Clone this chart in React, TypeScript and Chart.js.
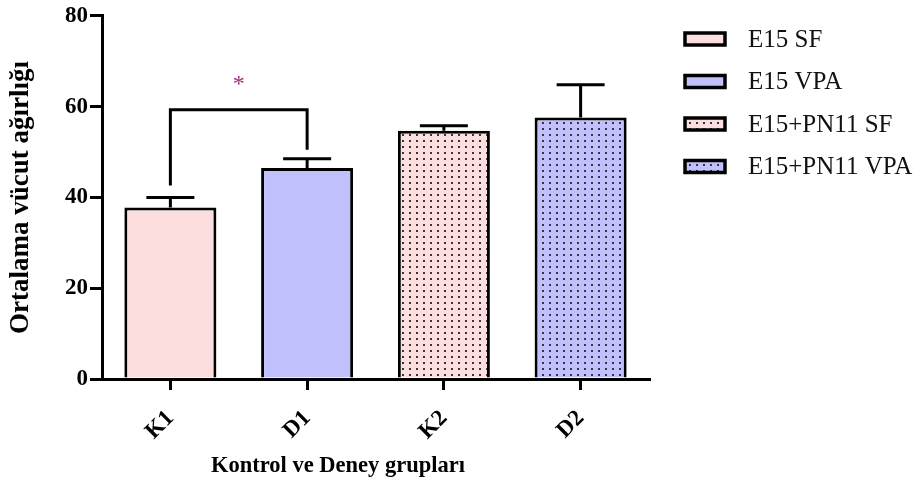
import React, { useEffect, useRef } from "react";
import { Chart, registerables } from "chart.js";

Chart.register(...registerables);

const categories = ["K1", "D1", "K2", "D2"];
const seriesNames = ["E15 SF", "E15 VPA", "E15+PN11 SF", "E15+PN11 VPA"];
const means = [37.8, 46.5, 54.7, 57.6];
const errors = [2.2, 2.0, 1.1, 7.2];
const yTicks = [0, 20, 40, 60, 80];
const fillColors = ["#FCDEDE", "#C0C0FC", "#FCDEDE", "#C0C0FC"];
const dotted = [false, false, true, true];
// significance bracket between K1 and D1
const sigFrom = 0;
const sigTo = 1;
const sigBarValue = 59.3;
const sigLeftEnd = 42.6;
const sigRightEnd = 50.5;
const sigLabel = "*";
const sigLabelValue = 65.5;

const yTitle = "Ortalama vücut ağırlığı";
const xTitle = "Kontrol ve Deney grupları";

const SERIF = "'Liberation Serif', 'Times New Roman', serif";

function makeFill(color: string, dots: boolean): string | CanvasPattern {
  if (!dots) return color;
  const c = document.createElement("canvas");
  c.width = 7;
  c.height = 6;
  const g = c.getContext("2d")!;
  g.fillStyle = color;
  g.fillRect(0, 0, 7, 6);
  g.fillStyle = "#3a3440";
  g.fillRect(3, 2, 2, 2);
  return g.createPattern(c, "repeat") as CanvasPattern;
}

export default function App() {
  const ref = useRef<HTMLCanvasElement | null>(null);

  useEffect(() => {
    if (!ref.current) return;
    const fills = fillColors.map((c, i) => makeFill(c, dotted[i]));

    const extras = {
      id: "extras",
      afterDatasetsDraw(chart: any) {
        const ctx = chart.ctx;
        const x = chart.scales.x;
        const y = chart.scales.y;
        ctx.save();
        ctx.strokeStyle = "#000";
        ctx.lineWidth = 3;
        ctx.lineCap = "butt";
        // error bars (upward only)
        means.forEach((m, i) => {
          const cx = x.getPixelForValue(i);
          const y0 = y.getPixelForValue(m);
          const y1 = y.getPixelForValue(m + errors[i]);
          ctx.beginPath();
          ctx.moveTo(cx, y0);
          ctx.lineTo(cx, y1);
          ctx.moveTo(cx - 24, y1);
          ctx.lineTo(cx + 24, y1);
          ctx.stroke();
        });
        // significance bracket
        const lx = x.getPixelForValue(sigFrom);
        const rx = x.getPixelForValue(sigTo);
        const by = y.getPixelForValue(sigBarValue);
        ctx.beginPath();
        ctx.moveTo(lx, y.getPixelForValue(sigLeftEnd));
        ctx.lineTo(lx, by);
        ctx.lineTo(rx, by);
        ctx.lineTo(rx, y.getPixelForValue(sigRightEnd));
        ctx.stroke();
        ctx.fillStyle = "#9C2F7A";
        ctx.font = `24px ${SERIF}`;
        ctx.textAlign = "center";
        ctx.textBaseline = "middle";
        ctx.fillText(sigLabel, (lx + rx) / 2, y.getPixelForValue(sigLabelValue) + 3);

        // x axis title
        ctx.fillStyle = "#000";
        ctx.font = `bold 22.5px ${SERIF}`;
        ctx.textAlign = "center";
        ctx.textBaseline = "middle";
        ctx.fillText(xTitle, chart.chartArea.left + 236, 466);

        // legend
        const lx0 = chart.chartArea.right + 36;
        seriesNames.forEach((name, i) => {
          const cy = 39 + i * 42.5;
          ctx.fillStyle = fills[i];
          ctx.fillRect(lx0, cy - 6, 40, 12);
          ctx.lineWidth = 3.5;
          ctx.strokeStyle = "#000";
          ctx.strokeRect(lx0, cy - 6, 40, 12);
          ctx.fillStyle = "#111";
          ctx.font = `25px ${SERIF}`;
          ctx.textAlign = "left";
          ctx.textBaseline = "middle";
          ctx.fillText(name, lx0 + 63, cy + 1);
        });
        ctx.restore();
      },
    };

    const chart = new Chart(ref.current, {
      type: "bar",
      data: {
        labels: categories,
        datasets: [
          {
            label: "Ortalama",
            data: means,
            backgroundColor: fills as any,
            borderColor: "#000",
            borderWidth: 3,
            barPercentage: 0.673,
            categoryPercentage: 1,
          },
        ],
      },
      options: {
        animation: false,
        responsive: false,
        maintainAspectRatio: false,
        layout: { padding: { left: 0, right: 273, top: 15, bottom: 0 } },
        plugins: { legend: { display: false }, tooltip: { enabled: false } },
        scales: {
          x: {
            offset: true,
            afterFit: (s: any) => {
              s.height = 107;
            },
            grid: {
              offset: false,
              drawOnChartArea: false,
              drawTicks: true,
              tickLength: 11,
              color: "#000",
              lineWidth: 3,
            },
            border: { display: true, color: "#000", width: 3 },
            ticks: {
              color: "#000",
              font: { family: SERIF, size: 23, weight: "bold" },
              maxRotation: 45,
              minRotation: 45,
              padding: 15,
            },
            title: { display: false },
          },
          y: {
            min: 0,
            max: 80,
            afterFit: (s: any) => {
              s.width = 102;
            },
            afterBuildTicks: (s: any) => {
              s.ticks = yTicks.map((v) => ({ value: v }));
            },
            grid: {
              drawOnChartArea: false,
              drawTicks: true,
              tickLength: 12,
              color: "#000",
              lineWidth: 3,
            },
            border: { display: true, color: "#000", width: 3 },
            ticks: {
              color: "#000",
              font: { family: SERIF, size: 23, weight: "bold" },
              padding: 2,
            },
            title: {
              display: true,
              text: yTitle,
              color: "#000",
              font: { family: SERIF, size: 27, weight: "bold" },
              padding: { top: 5, bottom: 0 },
            },
          },
        },
      },
      plugins: [extras],
    });
    return () => chart.destroy();
  }, []);

  return (
    <div style={{ position: "fixed", left: 0, top: 0, width: 922, height: 486, background: "#fff" }}>
      <canvas ref={ref} width={922} height={486} style={{ width: 922, height: 486 }} />
    </div>
  );
}
